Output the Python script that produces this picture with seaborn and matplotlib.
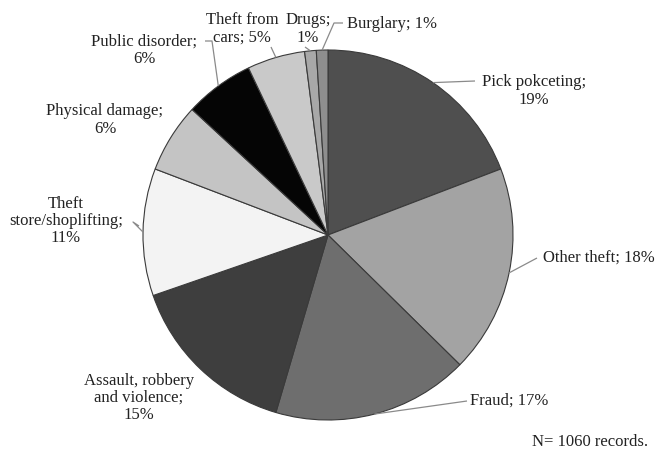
import numpy as np
import matplotlib
matplotlib.use("Agg")
import matplotlib.pyplot as plt
import seaborn as sns

categories = ["Pick pokceting", "Other theft", "Fraud", "Assault, robbery\nand violence",
              "Theft\nstore/shoplifting", "Physical damage", "Public disorder",
              "Theft from\ncars", "Drugs", "Burglary"]
values = [19, 18, 17, 15, 11, 6, 6, 5, 1, 1]
label_texts = ["Pick pokceting;\n19%", "Other theft; 18%", "Fraud; 17%",
               "Assault, robbery\nand violence;\n15%", "Theft\nstore/shoplifting;\n11%",
               "Physical damage;\n6%", "Public disorder;\n6%", "Theft from\ncars; 5%",
               "Drugs;\n1%", "Burglary; 1%"]
colors = ["#4f4f4f", "#a3a3a3", "#6e6e6e", "#3e3e3e", "#f3f3f3",
          "#c4c4c4", "#050505", "#c9c9c9", "#a8a8a8", "#8e8e8e"]
note = "N= 1060 records."

sns.set_theme(style="white")
plt.rcParams["font.family"] = ["Liberation Serif", "DejaVu Serif"]

W, H = 657, 450
fig = plt.figure(figsize=(W / 100, H / 100), dpi=100)
ax = fig.add_axes([0, 0, 1, 1])

cx, cy, R = 328, 235, 185
wedges, _ = ax.pie(values, colors=colors, startangle=90, counterclock=False,
                   center=(cx, H - cy), radius=R,
                   wedgeprops=dict(edgecolor="#3a3a3a", linewidth=0.8))
ax.set_xlim(0, W)
ax.set_ylim(0, H)
ax.set_aspect("equal")
ax.axis("off")

# label layout: (text x, text y in pixels from top, ha, leader path points in pixels or None)
layout = [
    (534, 91, "center", [(475, 81)]),
    (543, 258, "left", [(522, 266), (537, 258)]),
    (470, 401, "left", [(467, 401)]),
    (139, 398, "center", None),
    (66, 221, "center", [(133, 222), (139, 226)]),
    (105, 120, "center", None),
    (144, 50, "center", [(212, 41), (205, 41)]),
    (242, 29, "center", [(271, 47)]),
    (308, 29, "center", [(305, 47)]),
    (347, 24, "left", [(334, 23), (343, 23)]),
]

fs = 12
for w, txt, (tx, ty, ha, path) in zip(wedges, label_texts, layout):
    mid = np.deg2rad((w.theta1 + w.theta2) / 2)
    ex, ey = cx + R * np.cos(mid), H - cy + R * np.sin(mid)
    if path:
        pts = [(ex, ey)] + [(px, H - py) for px, py in path]
        xs, ys = zip(*pts)
        ax.plot(xs, ys, color="#8a8a8a", lw=0.9, solid_capstyle="butt")
    ax.text(tx, H - ty, txt, ha=ha, va="center", fontsize=fs, color="#222222",
            linespacing=1.1, multialignment="center")

ax.text(532, H - 442, note, ha="left", va="center", fontsize=fs, color="#222222")

fig.savefig("out.png", dpi=100)
